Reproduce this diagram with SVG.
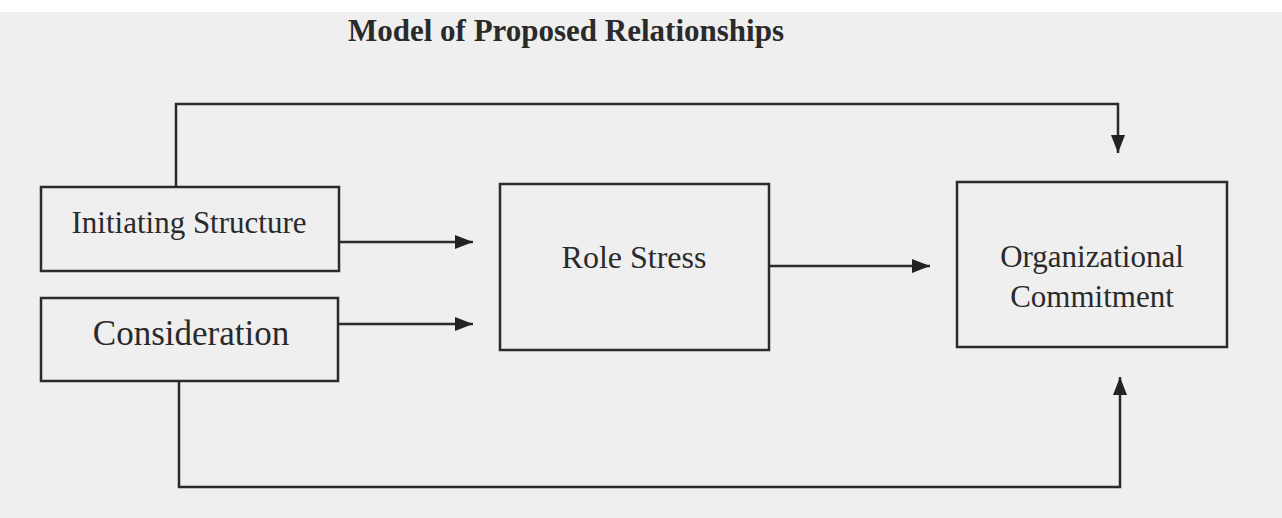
<svg xmlns="http://www.w3.org/2000/svg" width="1282" height="518" viewBox="0 0 1282 518">
<style>
.box{fill:none;stroke:#2b2b2b;stroke-width:2.5}
.edge{fill:none;stroke:#2b2b2b;stroke-width:2.5}
.lbl{font-family:"Liberation Serif","Times New Roman",serif;fill:#2a2a2a;text-anchor:middle}
</style>
<defs>
<marker id="arr" markerUnits="userSpaceOnUse" markerWidth="18" markerHeight="14" refX="18" refY="7" orient="auto">
<path d="M0,0 L18,7 L0,14 z" fill="#222"/>
</marker>
</defs>
<rect x="0" y="0" width="1282" height="518" fill="#efefef"/>
<rect x="0" y="0" width="1282" height="12" fill="#ffffff"/>
<text id="title" class="lbl" x="566" y="41" font-size="31" font-weight="bold">Model of Proposed Relationships</text>
<g id="connectors">
<path class="edge" d="M340,242 H473" marker-end="url(#arr)"/>
<path class="edge" d="M339,324 H473" marker-end="url(#arr)"/>
<path class="edge" d="M770,266 H930" marker-end="url(#arr)"/>
<path class="edge" d="M176,187 V104 H1118 V153" marker-end="url(#arr)"/>
<path class="edge" d="M179,381 V487 H1120 V377" marker-end="url(#arr)"/>
</g>
<g id="initiating">
<rect class="box" x="41" y="187" width="298" height="84"/>
<text class="lbl" x="189" y="233" font-size="31">Initiating Structure</text>
</g>
<g id="consideration">
<rect class="box" x="41" y="298" width="297" height="83"/>
<text class="lbl" x="191" y="345" font-size="35">Consideration</text>
</g>
<g id="rolestress">
<rect class="box" x="500" y="184" width="269" height="166"/>
<text class="lbl" x="634" y="268" font-size="32">Role Stress</text>
</g>
<g id="commitment">
<rect class="box" x="957" y="182" width="270" height="165"/>
<text class="lbl" x="1092" y="267" font-size="31">Organizational</text>
<text class="lbl" x="1092" y="307" font-size="31">Commitment</text>
</g>
</svg>
